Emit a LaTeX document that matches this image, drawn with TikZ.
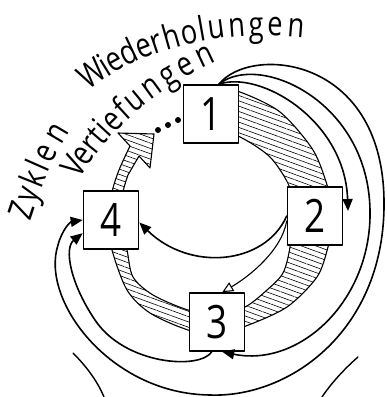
\documentclass[tikz,border=0pt]{standalone}
\usepackage{fontspec}
\setmainfont{Open Sans}
\newfontfamily\handfamily[FakeStretch=0.8]{Open Sans}
\usepackage{tikz}
\usetikzlibrary{arrows.meta,patterns.meta,positioning}

\newcommand\wordfont{\handfamily\fontsize{34}{34}\selectfont}
\newcommand\numfont{\handfamily\fontsize{46}{46}\selectfont}

\begin{document}
\begin{tikzpicture}[x=1pt, y=-1pt, line cap=round, line join=round,
    box/.style={rectangle, draw, fill=white, line width=1.6pt, minimum width=55pt, minimum height=58pt, inner sep=0pt, font=\numfont},
    band/.style={draw, line width=1.1pt, pattern={Lines[angle=-20,distance=5pt,line width=.6pt]}},
    arrow/.style={-{Triangle[length=12pt,width=10pt]}, line width=1.6pt},
    openarrow/.style={-{Triangle[open,length=11pt,width=10pt]}, line width=1.1pt},
    dot/.style={circle, fill, inner sep=0pt, minimum size=6pt},
    letter/.style={sloped, anchor=base, inner sep=0pt, font=\wordfont}]

    \useasboundingbox (0,0) rectangle (387,397);

    % hatched spiral band
    \draw[band] plot[smooth] coordinates {(215,88) (240,92) (280,112) (313,150) (328,188) (334,216) (328,247) (317,277) (287,307) (246,326) (217,334) (188,330) (150,313) (127,290) (112,250) (108,220) (112,192) (119,170) (130,146)}
        -- (118,133) -- (154,134) -- (150,168) -- (139,156)
        -- plot[smooth] coordinates {(128,175) (123,192) (120,220) (127,250) (133,277) (153,295) (188,310) (217,314) (245,307) (267,290) (283,273) (290,247) (292,216) (290,188) (270,157) (238,136) (215,132)} -- cycle;

    % Boxes
    \node[box] (b1) at (211,114) {1};
    \node[box] (b2) at (315,216) {2};
    \node[box] (b3) at (217,322) {3};
    \node[box] (b4) at (111,220) {4};

    \coordinate (c2) at (348,211);

    % Arrows
    \draw[arrow] (b1.75) .. controls (260,70) and (345,120) .. (c2);
    \draw[arrow] (b1.75) .. controls (258,52) and (368,100) .. (370,210) .. controls (372,300) and (300,368) .. (b3.-80);
    \draw[arrow] (b1.75) .. controls (250,45) and (382,55) .. (384,200) .. controls (386,330) and (290,398) .. (210,395) .. controls (110,394) and (40,300) .. (58,245) .. controls (62,230) and (70,222) .. (b4.west);
    \draw[arrow] (b3.-100) .. controls (200,370) and (125,365) .. (95,320) .. controls (70,283) and (64,248) .. (b4.205);
    \draw[arrow] (b2.west) .. controls (265,265) and (190,272) .. (b4.-5);
    \draw[openarrow] (b2.190) .. controls (282,250) and (250,276) .. (b3.80);

    % dots
    \node[dot] (d1) at (158,130) {};
    \node[dot] (d2) at (168,125) {};
    \node[dot] (d3) at (178,120) {};

    % words, one letter at a time along a curve
    \path (90,90) .. controls (136,52) and (215,28) .. (306,38)
        foreach \ch/\p [count=\i] in {W/.06,i/.136,e/.189,d/.264,e/.34,r/.402,h/.469,o/.547,l/.602,u/.659,n/.738,g/.813,e/.884,n/.96} {node[letter, pos=\p] (w\i) {\ch}};
    \path (80,178) .. controls (102,140) and (150,90) .. (220,60)
        foreach \ch/\p [count=\i] in {V/.049,e/.145,r/.225,t/.288,i/.339,e/.407,f/.482,u/.562,n/.664,g/.76,e/.852,n/.949} {node[letter, pos=\p] (v\i) {\ch}};
    \path (30,222) .. controls (40,192) and (50,162) .. (72,128)
        foreach \ch/\p [count=\i] in {Z/.091,y/.266,k/.435,l/.565,e/.701,n/.897} {node[letter, pos=\p] (z\i) {\ch}};

    % bottom lines
    \draw[line width=1.4pt] (73,353) .. controls (85,365) and (97,380) .. (104,397);
    \draw[line width=1.4pt] (358,357) .. controls (343,370) and (330,385) .. (322,397);

\end{tikzpicture}
\end{document}
